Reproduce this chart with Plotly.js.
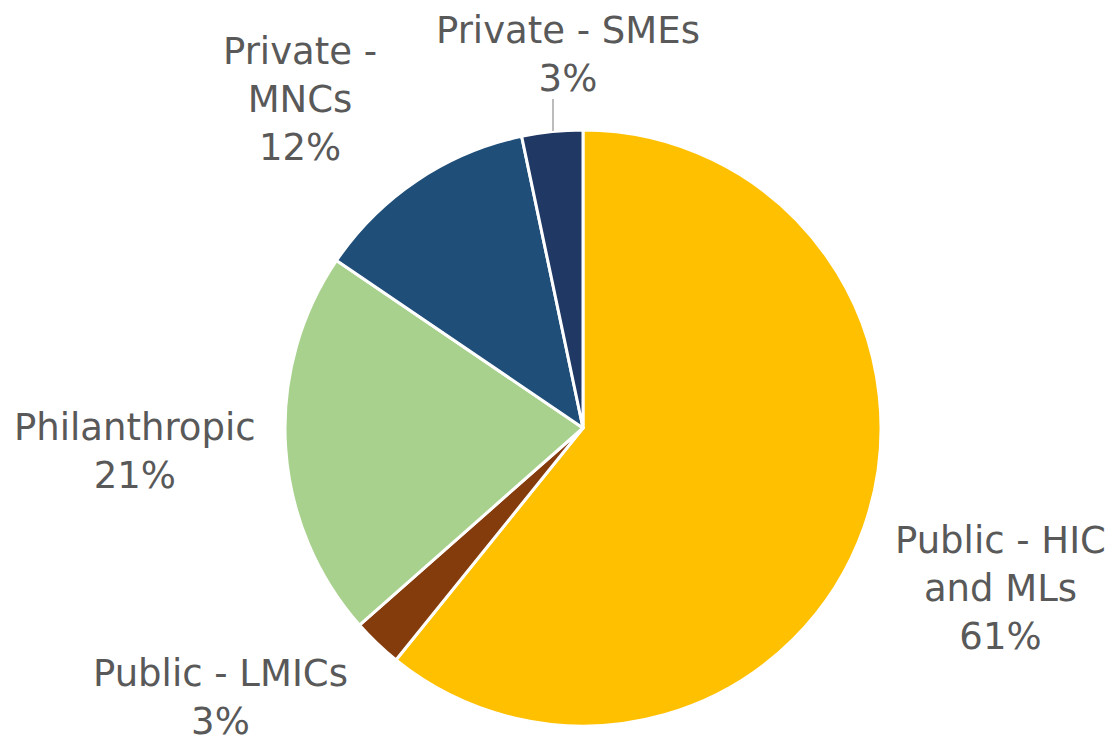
<!DOCTYPE html>
<html>
<head>
<meta charset="utf-8">
<script src="https://cdn.plot.ly/plotly-3.0.1.min.js"></script>
<style>html,body{margin:0;padding:0;background:#fff;}#chart{width:1120px;height:742px;}</style>
</head>
<body>
<div id="chart"></div>
<script>
const labels = ["Public - HIC and MLs", "Public - LMICs", "Philanthropic", "Private - MNCs", "Private - SMEs"];
const labelLines = [["Public - HIC", "and MLs"], ["Public - LMICs"], ["Philanthropic"], ["Private -", "MNCs"], ["Private - SMEs"]];
const values = [60.8, 2.7, 21.0, 12.2, 3.3];
const colors = ["#FFC000", "#843C0C", "#A9D18E", "#1F4E79", "#203864"];

const W = 1120, H = 742;
// label block centres in pixels (layout only)
const labelPos = [[1000, 588], [220, 697], [135, 451], [300, 99], [568, 54]];

const total = values.reduce((a, b) => a + b, 0);
const annotations = labels.map((l, i) => ({
  x: labelPos[i][0] / W, y: 1 - labelPos[i][1] / H,
  xref: 'paper', yref: 'paper', xanchor: 'center', yanchor: 'middle',
  showarrow: false, align: 'center',
  text: labelLines[i].join('<br>') + '<br>' + Math.round(values[i] / total * 100) + '%',
  font: {family: 'DejaVu Sans, Verdana, sans-serif', size: 37, color: '#595959'}
}));

const cx = 583, cy = 428, r = 298;
const data = [{
  type: 'pie',
  labels: labels,
  values: values,
  sort: false,
  direction: 'clockwise',
  rotation: 0,
  textinfo: 'none',
  hoverinfo: 'label+percent',
  marker: {colors: colors, line: {color: '#ffffff', width: 3}},
  domain: {x: [(cx - r) / W, (cx + r) / W], y: [1 - (cy + r) / H, 1 - (cy - r) / H]},
  showlegend: false
}];

const layout = {
  width: W, height: H,
  margin: {l: 0, r: 0, t: 0, b: 0},
  paper_bgcolor: '#ffffff',
  showlegend: false,
  annotations: annotations,
  shapes: [{type: 'line', xref: 'paper', yref: 'paper',
    x0: 553 / W, x1: 553 / W, y0: 1 - 99 / H, y1: 1 - 131 / H,
    line: {color: '#A6A6A6', width: 1.5}}]
};

Plotly.newPlot('chart', data, layout, {displayModeBar: false});
</script>
</body>
</html>
